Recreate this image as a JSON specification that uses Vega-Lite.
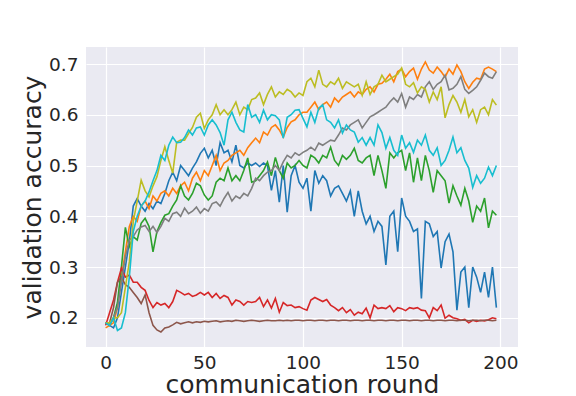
{
  "$schema": "https://vega.github.io/schema/vega-lite/v6.json",
  "width": 432,
  "height": 300,
  "autosize": {"type": "none"},
  "padding": {"left": 86, "top": 47, "right": 58, "bottom": 49},
  "background": "white",
  "config": {
    "view": {"fill": "#EAEAF2", "stroke": null},
    "axis": {
      "domain": false,
      "ticks": false,
      "gridColor": "white",
      "gridWidth": 1.2,
      "gridOpacity": 1,
      "labelFont": "DejaVu Sans",
      "titleFont": "DejaVu Sans",
      "labelColor": "#262626",
      "titleColor": "#262626",
      "labelFontSize": 18.5,
      "titleFontSize": 25,
      "titleFontWeight": "normal"
    }
  },
  "data": {
    "values": [
      {"r":0,"b":0.19,"o":0.18,"g":0.19,"rd":0.185,"br":0.19,"gy":0.19,"ol":0.19,"cy":0.19},
      {"r":2,"b":0.185,"o":0.185,"g":0.185,"rd":0.21,"br":0.19,"gy":0.185,"ol":0.19,"cy":0.185},
      {"r":4,"b":0.18,"o":0.19,"g":0.2,"rd":0.235,"br":0.22,"gy":0.2,"ol":0.2,"cy":0.2},
      {"r":6,"b":0.2,"o":0.22,"g":0.23,"rd":0.27,"br":0.27,"gy":0.22,"ol":0.2,"cy":0.175},
      {"r":8,"b":0.25,"o":0.28,"g":0.3,"rd":0.298,"br":0.28,"gy":0.27,"ol":0.21,"cy":0.18},
      {"r":10,"b":0.3,"o":0.33,"g":0.378,"rd":0.28,"br":0.265,"gy":0.32,"ol":0.26,"cy":0.21},
      {"r":12,"b":0.35,"o":0.38,"g":0.34,"rd":0.284,"br":0.26,"gy":0.353,"ol":0.31,"cy":0.28},
      {"r":14,"b":0.42,"o":0.4,"g":0.36,"rd":0.27,"br":0.25,"gy":0.36,"ol":0.39,"cy":0.37},
      {"r":16,"b":0.435,"o":0.39,"g":0.353,"rd":0.27,"br":0.24,"gy":0.373,"ol":0.43,"cy":0.4},
      {"r":18,"b":0.42,"o":0.42,"g":0.386,"rd":0.26,"br":0.228,"gy":0.379,"ol":0.471,"cy":0.42},
      {"r":20,"b":0.41,"o":0.43,"g":0.396,"rd":0.254,"br":0.245,"gy":0.382,"ol":0.45,"cy":0.43},
      {"r":22,"b":0.425,"o":0.415,"g":0.38,"rd":0.234,"br":0.21,"gy":0.37,"ol":0.438,"cy":0.448},
      {"r":24,"b":0.415,"o":0.44,"g":0.33,"rd":0.22,"br":0.185,"gy":0.38,"ol":0.46,"cy":0.47},
      {"r":26,"b":0.43,"o":0.43,"g":0.37,"rd":0.23,"br":0.176,"gy":0.368,"ol":0.478,"cy":0.49},
      {"r":28,"b":0.425,"o":0.445,"g":0.388,"rd":0.225,"br":0.172,"gy":0.38,"ol":0.51,"cy":0.52},
      {"r":30,"b":0.445,"o":0.45,"g":0.402,"rd":0.228,"br":0.18,"gy":0.396,"ol":0.537,"cy":0.51},
      {"r":32,"b":0.47,"o":0.44,"g":0.405,"rd":0.22,"br":0.182,"gy":0.39,"ol":0.51,"cy":0.54},
      {"r":34,"b":0.487,"o":0.455,"g":0.42,"rd":0.232,"br":0.186,"gy":0.405,"ol":0.485,"cy":0.556},
      {"r":36,"b":0.47,"o":0.445,"g":0.432,"rd":0.254,"br":0.191,"gy":0.408,"ol":0.546,"cy":0.545},
      {"r":38,"b":0.5,"o":0.46,"g":0.46,"rd":0.25,"br":0.188,"gy":0.4,"ol":0.55,"cy":0.546},
      {"r":40,"b":0.49,"o":0.467,"g":0.44,"rd":0.245,"br":0.19,"gy":0.416,"ol":0.55,"cy":0.555},
      {"r":42,"b":0.48,"o":0.45,"g":0.432,"rd":0.248,"br":0.192,"gy":0.405,"ol":0.563,"cy":0.57},
      {"r":44,"b":0.495,"o":0.475,"g":0.445,"rd":0.242,"br":0.19,"gy":0.41,"ol":0.575,"cy":0.56},
      {"r":46,"b":0.507,"o":0.487,"g":0.465,"rd":0.245,"br":0.192,"gy":0.418,"ol":0.595,"cy":0.574},
      {"r":48,"b":0.524,"o":0.47,"g":0.46,"rd":0.25,"br":0.191,"gy":0.406,"ol":0.603,"cy":0.576},
      {"r":50,"b":0.534,"o":0.49,"g":0.442,"rd":0.245,"br":0.193,"gy":0.415,"ol":0.573,"cy":0.56},
      {"r":52,"b":0.515,"o":0.48,"g":0.432,"rd":0.25,"br":0.192,"gy":0.41,"ol":0.59,"cy":0.58},
      {"r":54,"b":0.53,"o":0.5,"g":0.44,"rd":0.24,"br":0.193,"gy":0.425,"ol":0.6,"cy":0.59},
      {"r":56,"b":0.5,"o":0.52,"g":0.467,"rd":0.248,"br":0.194,"gy":0.428,"ol":0.62,"cy":0.58},
      {"r":58,"b":0.545,"o":0.49,"g":0.475,"rd":0.238,"br":0.192,"gy":0.42,"ol":0.6,"cy":0.565},
      {"r":60,"b":0.525,"o":0.505,"g":0.47,"rd":0.244,"br":0.193,"gy":0.435,"ol":0.61,"cy":0.54},
      {"r":62,"b":0.53,"o":0.51,"g":0.495,"rd":0.24,"br":0.194,"gy":0.447,"ol":0.6,"cy":0.59},
      {"r":64,"b":0.507,"o":0.52,"g":0.47,"rd":0.225,"br":0.193,"gy":0.43,"ol":0.61,"cy":0.605},
      {"r":66,"b":0.54,"o":0.525,"g":0.48,"rd":0.235,"br":0.195,"gy":0.44,"ol":0.625,"cy":0.585},
      {"r":68,"b":0.5,"o":0.53,"g":0.47,"rd":0.232,"br":0.194,"gy":0.435,"ol":0.6,"cy":0.57},
      {"r":70,"b":0.495,"o":0.52,"g":0.49,"rd":0.225,"br":0.193,"gy":0.445,"ol":0.615,"cy":0.566},
      {"r":72,"b":0.505,"o":0.535,"g":0.515,"rd":0.232,"br":0.194,"gy":0.44,"ol":0.61,"cy":0.62},
      {"r":74,"b":0.5,"o":0.545,"g":0.467,"rd":0.23,"br":0.195,"gy":0.455,"ol":0.63,"cy":0.595},
      {"r":76,"b":0.505,"o":0.554,"g":0.47,"rd":0.232,"br":0.194,"gy":0.475,"ol":0.633,"cy":0.6},
      {"r":78,"b":0.498,"o":0.545,"g":0.48,"rd":0.24,"br":0.193,"gy":0.47,"ol":0.643,"cy":0.585},
      {"r":80,"b":0.505,"o":0.566,"g":0.49,"rd":0.222,"br":0.194,"gy":0.48,"ol":0.62,"cy":0.609},
      {"r":82,"b":0.5,"o":0.56,"g":0.507,"rd":0.235,"br":0.195,"gy":0.487,"ol":0.64,"cy":0.59},
      {"r":84,"b":0.451,"o":0.575,"g":0.48,"rd":0.219,"br":0.194,"gy":0.49,"ol":0.655,"cy":0.6},
      {"r":86,"b":0.49,"o":0.58,"g":0.516,"rd":0.238,"br":0.194,"gy":0.5,"ol":0.635,"cy":0.598},
      {"r":88,"b":0.428,"o":0.57,"g":0.49,"rd":0.211,"br":0.195,"gy":0.49,"ol":0.645,"cy":0.59},
      {"r":90,"b":0.5,"o":0.556,"g":0.475,"rd":0.23,"br":0.194,"gy":0.507,"ol":0.64,"cy":0.554},
      {"r":92,"b":0.408,"o":0.575,"g":0.505,"rd":0.224,"br":0.195,"gy":0.52,"ol":0.65,"cy":0.595},
      {"r":94,"b":0.48,"o":0.586,"g":0.495,"rd":0.225,"br":0.194,"gy":0.515,"ol":0.645,"cy":0.6},
      {"r":96,"b":0.5,"o":0.59,"g":0.5,"rd":0.22,"br":0.195,"gy":0.525,"ol":0.635,"cy":0.609},
      {"r":98,"b":0.467,"o":0.6,"g":0.51,"rd":0.222,"br":0.195,"gy":0.52,"ol":0.643,"cy":0.61},
      {"r":100,"b":0.455,"o":0.605,"g":0.5,"rd":0.218,"br":0.194,"gy":0.526,"ol":0.638,"cy":0.593},
      {"r":102,"b":0.475,"o":0.605,"g":0.495,"rd":0.215,"br":0.195,"gy":0.53,"ol":0.665,"cy":0.576},
      {"r":104,"b":0.41,"o":0.615,"g":0.52,"rd":0.235,"br":0.195,"gy":0.536,"ol":0.672,"cy":0.605},
      {"r":106,"b":0.49,"o":0.625,"g":0.515,"rd":0.24,"br":0.194,"gy":0.53,"ol":0.655,"cy":0.585},
      {"r":108,"b":0.465,"o":0.61,"g":0.505,"rd":0.236,"br":0.195,"gy":0.544,"ol":0.688,"cy":0.613},
      {"r":110,"b":0.48,"o":0.62,"g":0.52,"rd":0.232,"br":0.195,"gy":0.54,"ol":0.66,"cy":0.62},
      {"r":112,"b":0.47,"o":0.625,"g":0.515,"rd":0.236,"br":0.194,"gy":0.545,"ol":0.655,"cy":0.59},
      {"r":114,"b":0.44,"o":0.615,"g":0.536,"rd":0.225,"br":0.195,"gy":0.55,"ol":0.665,"cy":0.585},
      {"r":116,"b":0.455,"o":0.633,"g":0.51,"rd":0.22,"br":0.195,"gy":0.548,"ol":0.66,"cy":0.574},
      {"r":118,"b":0.46,"o":0.625,"g":0.5,"rd":0.214,"br":0.194,"gy":0.56,"ol":0.672,"cy":0.59},
      {"r":120,"b":0.445,"o":0.635,"g":0.52,"rd":0.22,"br":0.195,"gy":0.574,"ol":0.652,"cy":0.564},
      {"r":122,"b":0.43,"o":0.64,"g":0.512,"rd":0.21,"br":0.195,"gy":0.57,"ol":0.665,"cy":0.58},
      {"r":124,"b":0.45,"o":0.645,"g":0.52,"rd":0.216,"br":0.194,"gy":0.58,"ol":0.66,"cy":0.57},
      {"r":126,"b":0.4,"o":0.635,"g":0.534,"rd":0.205,"br":0.195,"gy":0.585,"ol":0.655,"cy":0.566},
      {"r":128,"b":0.45,"o":0.645,"g":0.51,"rd":0.211,"br":0.195,"gy":0.59,"ol":0.66,"cy":0.546},
      {"r":130,"b":0.41,"o":0.64,"g":0.505,"rd":0.208,"br":0.194,"gy":0.574,"ol":0.638,"cy":0.555},
      {"r":132,"b":0.385,"o":0.65,"g":0.515,"rd":0.219,"br":0.195,"gy":0.585,"ol":0.665,"cy":0.54},
      {"r":134,"b":0.4,"o":0.655,"g":0.52,"rd":0.2,"br":0.195,"gy":0.596,"ol":0.64,"cy":0.555},
      {"r":136,"b":0.37,"o":0.645,"g":0.48,"rd":0.225,"br":0.194,"gy":0.6,"ol":0.655,"cy":0.54},
      {"r":138,"b":0.39,"o":0.66,"g":0.52,"rd":0.218,"br":0.195,"gy":0.605,"ol":0.66,"cy":0.58},
      {"r":140,"b":0.38,"o":0.662,"g":0.49,"rd":0.22,"br":0.195,"gy":0.61,"ol":0.678,"cy":0.565},
      {"r":142,"b":0.304,"o":0.67,"g":0.455,"rd":0.218,"br":0.194,"gy":0.615,"ol":0.665,"cy":0.534},
      {"r":144,"b":0.4,"o":0.68,"g":0.525,"rd":0.224,"br":0.195,"gy":0.625,"ol":0.67,"cy":0.555},
      {"r":146,"b":0.41,"o":0.665,"g":0.515,"rd":0.212,"br":0.195,"gy":0.633,"ol":0.675,"cy":0.53},
      {"r":148,"b":0.33,"o":0.685,"g":0.525,"rd":0.22,"br":0.194,"gy":0.625,"ol":0.68,"cy":0.52},
      {"r":150,"b":0.436,"o":0.69,"g":0.53,"rd":0.218,"br":0.195,"gy":0.642,"ol":0.692,"cy":0.56},
      {"r":152,"b":0.4,"o":0.675,"g":0.49,"rd":0.214,"br":0.195,"gy":0.615,"ol":0.66,"cy":0.534},
      {"r":154,"b":0.39,"o":0.685,"g":0.525,"rd":0.22,"br":0.194,"gy":0.635,"ol":0.655,"cy":0.545},
      {"r":156,"b":0.37,"o":0.692,"g":0.467,"rd":0.218,"br":0.195,"gy":0.63,"ol":0.663,"cy":0.526},
      {"r":158,"b":0.375,"o":0.67,"g":0.515,"rd":0.22,"br":0.195,"gy":0.64,"ol":0.643,"cy":0.55},
      {"r":160,"b":0.238,"o":0.69,"g":0.47,"rd":0.215,"br":0.194,"gy":0.635,"ol":0.655,"cy":0.54},
      {"r":162,"b":0.39,"o":0.704,"g":0.52,"rd":0.214,"br":0.195,"gy":0.655,"ol":0.65,"cy":0.56},
      {"r":164,"b":0.385,"o":0.688,"g":0.49,"rd":0.2,"br":0.195,"gy":0.665,"ol":0.625,"cy":0.53},
      {"r":166,"b":0.36,"o":0.682,"g":0.447,"rd":0.22,"br":0.194,"gy":0.65,"ol":0.645,"cy":0.52},
      {"r":168,"b":0.37,"o":0.694,"g":0.49,"rd":0.214,"br":0.195,"gy":0.66,"ol":0.63,"cy":0.535},
      {"r":170,"b":0.298,"o":0.685,"g":0.48,"rd":0.225,"br":0.195,"gy":0.665,"ol":0.655,"cy":0.5},
      {"r":172,"b":0.35,"o":0.674,"g":0.47,"rd":0.199,"br":0.194,"gy":0.678,"ol":0.594,"cy":0.51},
      {"r":174,"b":0.365,"o":0.69,"g":0.426,"rd":0.205,"br":0.195,"gy":0.649,"ol":0.62,"cy":0.53},
      {"r":176,"b":0.33,"o":0.68,"g":0.46,"rd":0.2,"br":0.195,"gy":0.652,"ol":0.638,"cy":0.556},
      {"r":178,"b":0.215,"o":0.698,"g":0.44,"rd":0.198,"br":0.194,"gy":0.66,"ol":0.625,"cy":0.525},
      {"r":180,"b":0.29,"o":0.685,"g":0.422,"rd":0.195,"br":0.195,"gy":0.675,"ol":0.605,"cy":0.535},
      {"r":182,"b":0.3,"o":0.665,"g":0.455,"rd":0.197,"br":0.195,"gy":0.65,"ol":0.63,"cy":0.51},
      {"r":184,"b":0.22,"o":0.652,"g":0.43,"rd":0.19,"br":0.194,"gy":0.642,"ol":0.596,"cy":0.495},
      {"r":186,"b":0.3,"o":0.664,"g":0.388,"rd":0.195,"br":0.195,"gy":0.648,"ol":0.61,"cy":0.457},
      {"r":188,"b":0.28,"o":0.672,"g":0.42,"rd":0.193,"br":0.195,"gy":0.655,"ol":0.585,"cy":0.48},
      {"r":190,"b":0.25,"o":0.67,"g":0.41,"rd":0.195,"br":0.194,"gy":0.668,"ol":0.61,"cy":0.465},
      {"r":192,"b":0.29,"o":0.69,"g":0.436,"rd":0.194,"br":0.195,"gy":0.682,"ol":0.615,"cy":0.475},
      {"r":194,"b":0.24,"o":0.694,"g":0.377,"rd":0.196,"br":0.195,"gy":0.675,"ol":0.6,"cy":0.497},
      {"r":196,"b":0.3,"o":0.69,"g":0.41,"rd":0.2,"br":0.194,"gy":0.672,"ol":0.63,"cy":0.48},
      {"r":198,"b":0.22,"o":0.685,"g":0.402,"rd":0.198,"br":0.195,"gy":0.685,"ol":0.619,"cy":0.5}
    ]
  },
  "transform": [
    {"fold": ["b", "o", "g", "rd", "br", "gy", "ol", "cy"], "as": ["series", "acc"]}
  ],
  "mark": {"type": "line", "strokeWidth": 1.6, "clip": true},
  "encoding": {
    "x": {
      "field": "r",
      "type": "quantitative",
      "scale": {"domain": [-9.95, 208.95], "nice": false, "zero": false},
      "axis": {"values": [0, 50, 100, 150, 200], "title": "communication round", "labelPadding": 6, "titlePadding": 1}
    },
    "y": {
      "field": "acc",
      "type": "quantitative",
      "scale": {"domain": [0.1424, 0.7335], "nice": false, "zero": false},
      "axis": {"values": [0.2, 0.3, 0.4, 0.5, 0.6, 0.7], "format": ".1f", "title": "validation accuracy", "labelPadding": 8, "titlePadding": 3}
    },
    "color": {
      "field": "series",
      "type": "nominal",
      "scale": {
        "domain": ["b", "o", "g", "rd", "br", "gy", "ol", "cy"],
        "range": ["#1f77b4", "#ff7f0e", "#2ca02c", "#d62728", "#8c564b", "#7f7f7f", "#bcbd22", "#17becf"]
      },
      "legend": null
    }
  }
}
